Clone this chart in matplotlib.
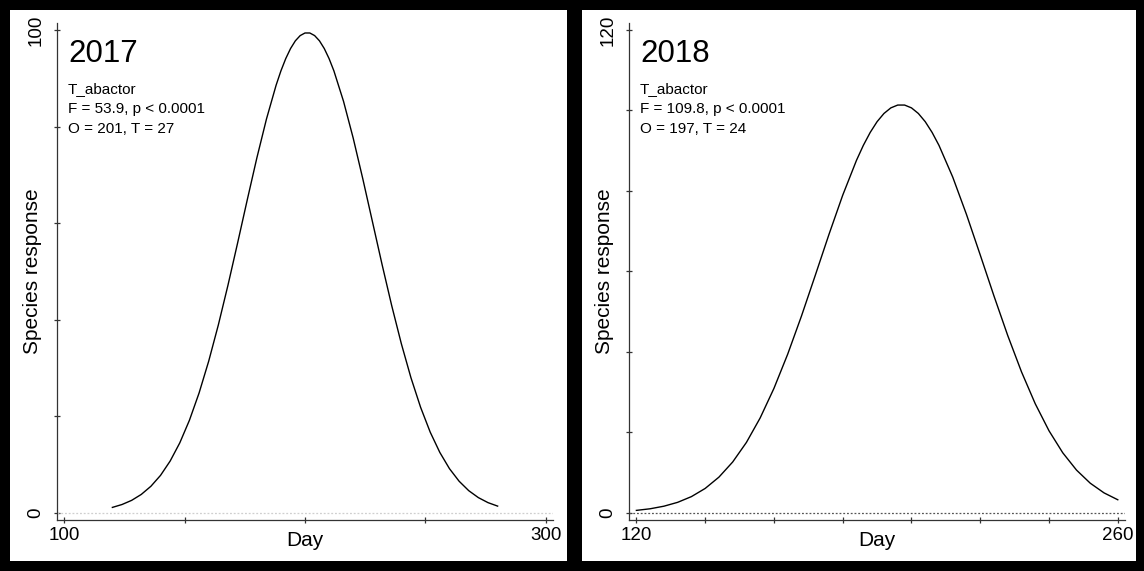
import matplotlib.pyplot as plt
from matplotlib.patches import Rectangle

plt.rcParams['font.family'] = ['Liberation Sans', 'DejaVu Sans']

# Dados (curvas de resposta da espécie)
dias_2017 = [120, 124, 128, 132, 136, 140, 144, 148, 152, 156, 160, 164, 168,
             172, 176, 180, 184, 188, 190, 192, 194, 196, 198, 200, 202, 204,
             206, 208, 210, 212, 216, 220, 224, 228, 232, 236, 240, 244, 248,
             252, 256, 260, 264, 268, 272, 276, 280]
resp_2017 = [1.11, 1.71, 2.57, 3.80, 5.49, 7.75, 10.72, 14.49, 19.17, 24.81,
             31.41, 38.91, 47.15, 55.89, 64.81, 73.53, 81.61, 88.61, 91.58,
             94.12, 96.21, 97.81, 98.89, 99.43, 99.43, 98.89, 97.81, 96.21,
             94.12, 91.58, 85.27, 77.68, 69.22, 60.35, 51.47, 42.95, 35.06,
             27.99, 21.87, 16.71, 12.50, 9.14, 6.54, 4.58, 3.14, 2.10, 1.38]

dias_2018 = [120, 124, 128, 132, 136, 140, 144, 148, 152, 156, 160, 164, 168,
             172, 176, 180, 184, 186, 188, 190, 192, 194, 196, 198, 200, 202,
             204, 206, 208, 212, 216, 220, 224, 228, 232, 236, 240, 244, 248,
             252, 256, 260]
resp_2018 = [0.59, 0.99, 1.63, 2.59, 4.01, 6.04, 8.85, 12.61, 17.48, 23.57,
             30.90, 39.40, 48.86, 58.94, 69.15, 78.90, 87.56, 91.29, 94.51,
             97.18, 99.22, 100.61, 101.31, 101.31, 100.61, 99.22, 97.18, 94.51,
             91.29, 83.41, 74.12, 64.06, 53.85, 44.03, 35.01, 27.08, 20.37,
             14.90, 10.60, 7.34, 4.94, 3.23]

paineis = [
    dict(ano='2017', x=dias_2017, y=resp_2017, xlim=(97, 303), ylim=(-1.5, 101.5),
         xticks=[100, 150, 200, 250, 300], xlab={100: '100', 300: '300'},
         yticks=[0, 20, 40, 60, 80, 100], ylab={0: '0', 100: '100'},
         info=['T_abactor', 'F = 53.9, p < 0.0001', 'O = 201, T = 27'],
         zero_cor='#cfcfcf', left=57),
    dict(ano='2018', x=dias_2018, y=resp_2018, xlim=(117.85, 262.1), ylim=(-1.8, 121.7),
         xticks=[120, 140, 160, 180, 200, 220, 240, 260], xlab={120: '120', 260: '260'},
         yticks=[0, 20, 40, 60, 80, 100, 120], ylab={0: '0', 120: '120'},
         info=['T_abactor', 'F = 109.8, p < 0.0001', 'O = 197, T = 24'],
         zero_cor='#555555', left=629),
]

W, H = 1144, 571
fig = plt.figure(figsize=(W / 100, H / 100), dpi=100, facecolor='black')

# Fundos brancos dos dois painéis
for x0, x1 in [(10, 567), (582, 1136)]:
    fig.patches.append(Rectangle((x0 / W, 1 - 561 / H), (x1 - x0) / W, 551 / H,
                                 transform=fig.transFigure, facecolor='white',
                                 edgecolor='none', zorder=-5))

for p in paineis:
    ax = fig.add_axes([p['left'] / W, 1 - 520 / H, 496 / W, 497 / H])
    ax.set_zorder(2)
    ax.patch.set_alpha(0)
    ax.axhline(0, color=p['zero_cor'], linestyle=(0, (1.5, 1.5)), linewidth=0.9)
    ax.plot(p['x'], p['y'], color='black', linewidth=1.0)

    ax.set_xlim(*p['xlim'])
    ax.set_ylim(*p['ylim'])
    for lado in ['top', 'right']:
        ax.spines[lado].set_visible(False)
    for lado in ['left', 'bottom']:
        ax.spines[lado].set_color('#333333')
        ax.spines[lado].set_linewidth(0.9)

    ax.set_xticks(p['xticks'])
    ax.set_xticklabels([p['xlab'].get(t, '') for t in p['xticks']])
    ax.set_yticks(p['yticks'])
    ax.set_yticklabels([p['ylab'].get(t, '') for t in p['yticks']],
                       rotation=90, va='center')
    ax.tick_params(axis='x', direction='inout', length=4, width=0.9,
                   labelsize=13.5, pad=3, color='#333333')
    ax.tick_params(axis='y', direction='inout', length=4.5, width=0.9,
                   labelsize=13.5, pad=7, color='#333333')

    ax.set_xlabel('Day', fontsize=15, va='center')
    ax.xaxis.set_label_coords(0.5, -21 / 497)
    ax.set_ylabel('Species response', fontsize=15, va='center')
    ax.yaxis.set_label_coords(-24 / 496, 0.5)

    # Textos do canto superior esquerdo
    x_txt = (p['left'] + 11) / W
    fig.text(x_txt, 1 - 62 / H, p['ano'], fontsize=22.5, va='baseline', zorder=3)
    for i, linha in enumerate(p['info']):
        fig.text(x_txt, 1 - (93 + i * 20) / H, linha, fontsize=11, va='baseline', zorder=3)

fig.savefig('out.png', dpi=100, facecolor='black')
plt.close(fig)
